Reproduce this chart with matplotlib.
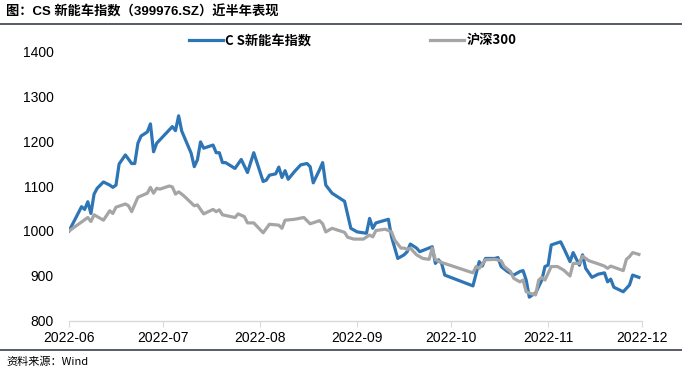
import matplotlib
matplotlib.use("Agg")
import matplotlib.pyplot as plt
import matplotlib.dates as mdates
import pandas as pd

plt.rcParams['font.family'] = ['Liberation Sans', 'Noto Sans CJK SC', 'DejaVu Sans']

# CS 新能车指数 (normalised, 2022-06-01 = 1000)
ev_dates = [
    "2022-06-01", "2022-06-05", "2022-06-06", "2022-06-07", "2022-06-08", "2022-06-09",
    "2022-06-10", "2022-06-12", "2022-06-14", "2022-06-15", "2022-06-16", "2022-06-17",
    "2022-06-19", "2022-06-21", "2022-06-22", "2022-06-23", "2022-06-24", "2022-06-26",
    "2022-06-27", "2022-06-28", "2022-06-29", "2022-07-04", "2022-07-05", "2022-07-06",
    "2022-07-07", "2022-07-10", "2022-07-11", "2022-07-12", "2022-07-13", "2022-07-14",
    "2022-07-17", "2022-07-18", "2022-07-19", "2022-07-20", "2022-07-21", "2022-07-24",
    "2022-07-26", "2022-07-28", "2022-07-30", "2022-08-02", "2022-08-03", "2022-08-04",
    "2022-08-06", "2022-08-07", "2022-08-08", "2022-08-09", "2022-08-10", "2022-08-12",
    "2022-08-14", "2022-08-16", "2022-08-17", "2022-08-18", "2022-08-20", "2022-08-21",
    "2022-08-22", "2022-08-24", "2022-08-28", "2022-08-29", "2022-08-30", "2022-09-01",
    "2022-09-04", "2022-09-05", "2022-09-06", "2022-09-07", "2022-09-11", "2022-09-12",
    "2022-09-14", "2022-09-16", "2022-09-17", "2022-09-18", "2022-09-20", "2022-09-21",
    "2022-09-25", "2022-09-26", "2022-09-27", "2022-09-28", "2022-09-29", "2022-10-08",
    "2022-10-10", "2022-10-11", "2022-10-12", "2022-10-15", "2022-10-16", "2022-10-17",
    "2022-10-19", "2022-10-21", "2022-10-23", "2022-10-24", "2022-10-25", "2022-10-26",
    "2022-10-27", "2022-10-28", "2022-10-30", "2022-10-31", "2022-11-01", "2022-11-02",
    "2022-11-05", "2022-11-06", "2022-11-08", "2022-11-09", "2022-11-11", "2022-11-12",
    "2022-11-13", "2022-11-15", "2022-11-17", "2022-11-19", "2022-11-20", "2022-11-21",
    "2022-11-22", "2022-11-25", "2022-11-27", "2022-11-28", "2022-11-30",
]
ev_values = [
    1000, 1054, 1048, 1065, 1039, 1082,
    1095, 1109, 1102, 1097, 1102, 1149,
    1169, 1150, 1150, 1195, 1211, 1220,
    1238, 1176, 1195, 1232, 1223, 1256,
    1222, 1173, 1143, 1158, 1198, 1184,
    1191, 1174, 1174, 1152, 1152, 1139,
    1159, 1130, 1174, 1110, 1113, 1124,
    1127, 1142, 1119, 1134, 1115, 1132,
    1147, 1150, 1143, 1107, 1136, 1152,
    1102, 1084, 1066, 1036, 1006, 998,
    995, 1028, 1006, 1018, 1026, 987,
    939, 947, 954, 971, 962, 954,
    965, 928, 936, 928, 902, 878,
    932, 922, 939, 939, 941, 921,
    910, 902, 910, 912, 891, 853,
    858, 862, 891, 921, 924, 969,
    976, 962, 932, 952, 924, 947,
    917, 897, 904, 907, 887, 893,
    875, 865, 880, 902, 897,
]

# 沪深300 (normalised, 2022-06-01 = 1000)
hs_dates = [
    "2022-06-01", "2022-06-07", "2022-06-08", "2022-06-09", "2022-06-12", "2022-06-14",
    "2022-06-15", "2022-06-16", "2022-06-19", "2022-06-20", "2022-06-21", "2022-06-23",
    "2022-06-26", "2022-06-27", "2022-06-28", "2022-06-29", "2022-06-30", "2022-07-03",
    "2022-07-04", "2022-07-05", "2022-07-06", "2022-07-07", "2022-07-08", "2022-07-11",
    "2022-07-12", "2022-07-14", "2022-07-17", "2022-07-18", "2022-07-19", "2022-07-20",
    "2022-07-24", "2022-07-25", "2022-07-27", "2022-07-28", "2022-07-30", "2022-08-02",
    "2022-08-04", "2022-08-07", "2022-08-08", "2022-08-09", "2022-08-12", "2022-08-15",
    "2022-08-17", "2022-08-20", "2022-08-21", "2022-08-22", "2022-08-24", "2022-08-28",
    "2022-08-29", "2022-08-31", "2022-09-03", "2022-09-05", "2022-09-06", "2022-09-07",
    "2022-09-10", "2022-09-12", "2022-09-13", "2022-09-15", "2022-09-16", "2022-09-17",
    "2022-09-18", "2022-09-20", "2022-09-22", "2022-09-24", "2022-09-25", "2022-09-26",
    "2022-09-28", "2022-10-08", "2022-10-09", "2022-10-10", "2022-10-12", "2022-10-15",
    "2022-10-17", "2022-10-18", "2022-10-20", "2022-10-21", "2022-10-23", "2022-10-24",
    "2022-10-25", "2022-10-26", "2022-10-28", "2022-10-29", "2022-10-30", "2022-10-31",
    "2022-11-02", "2022-11-04", "2022-11-06", "2022-11-08", "2022-11-09", "2022-11-11",
    "2022-11-12", "2022-11-14", "2022-11-17", "2022-11-19", "2022-11-20", "2022-11-21",
    "2022-11-25", "2022-11-26", "2022-11-27", "2022-11-28", "2022-11-30",
]
hs_values = [
    1000, 1030, 1021, 1036, 1024, 1045,
    1039, 1053, 1060, 1056, 1043, 1075,
    1084, 1097, 1084, 1095, 1093, 1100,
    1098, 1082, 1087, 1082, 1076, 1056,
    1058, 1038, 1048, 1043, 1047, 1036,
    1030, 1038, 1032, 1018, 1018, 996,
    1015, 1013, 1006, 1024, 1026, 1030,
    1016, 1023, 1016, 998, 1006, 997,
    986, 982, 982, 991, 987, 1001,
    1004, 998, 980, 962, 962, 959,
    962, 947, 939, 937, 962, 936,
    930, 907, 921, 917, 936, 937,
    934, 921, 910, 895, 887, 891,
    865, 862, 858, 891, 897, 891,
    921, 921, 913, 900, 928, 928,
    944, 934, 927, 922, 917, 922,
    912, 937, 943, 952, 948,
]

y_ticks = [800, 900, 1000, 1100, 1200, 1300, 1400]

blue = '#2E75B6'
grey = '#A5A5A5'
rule_color = '#3B3F4A'

fig = plt.figure(figsize=(6.82, 3.72), dpi=100)
ax = fig.add_axes([0.1012, 0.1371, 0.8402, 0.7258])

ax.plot(pd.to_datetime(ev_dates), ev_values, color=blue, lw=2.3,
        label='C S新能车指数', solid_joinstyle='round')
ax.plot(pd.to_datetime(hs_dates), hs_values, color=grey, lw=2.3,
        label='沪深300', solid_joinstyle='round')

ax.set_xlim(pd.Timestamp('2022-06-01'), pd.Timestamp('2022-12-01'))
ax.set_ylim(800, 1400)
ax.set_yticks(y_ticks)
ax.xaxis.set_major_locator(mdates.MonthLocator())
ax.xaxis.set_major_formatter(mdates.DateFormatter('%Y-%m'))

for side in ['top', 'right', 'left']:
    ax.spines[side].set_visible(False)
ax.spines['bottom'].set_color('#D9D9D9')
ax.spines['bottom'].set_linewidth(1.0)
ax.tick_params(axis='x', direction='out', length=4, color='#D9D9D9',
               labelsize=10, pad=3, labelcolor='#000000')
ax.tick_params(axis='y', length=0, labelsize=10, pad=11, labelcolor='#000000')

# legend sits above the plot area, centred a bit right of the middle
leg = ax.legend(loc='center', bbox_to_anchor=(0.495, 1.04), ncol=2, frameon=False,
                handlelength=2.6, handletextpad=0.15, columnspacing=9.0,
                prop={'family': ['Noto Sans CJK SC'], 'weight': 'bold', 'size': 9.5})

fig.text(0.009, 0.967, '图：CS 新能车指数（399976.SZ）近半年表现', fontsize=9.5,
         fontweight='bold', va='center', ha='left',
         family=['Liberation Sans', 'Noto Sans CJK SC'])
fig.add_artist(plt.Line2D([0, 1], [1 - 24 / 372, 1 - 24 / 372], color=rule_color, lw=1.2))
fig.add_artist(plt.Line2D([0, 1], [1 - 350 / 372, 1 - 350 / 372], color=rule_color, lw=1.2))
fig.text(0.009, 1 - 362 / 372, '资料来源：Wind', fontsize=8, va='center', ha='left',
         family=['Noto Sans CJK SC'])

fig.savefig('out.png', dpi=100)
